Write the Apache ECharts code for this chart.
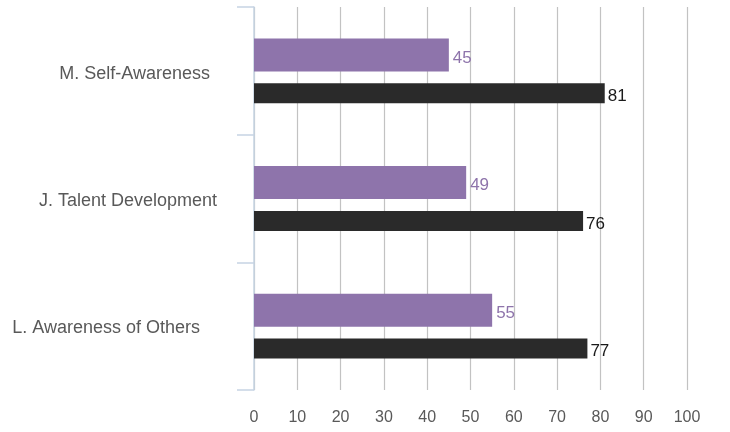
<!DOCTYPE html>
<html>
<head>
<meta charset="utf-8">
<script src="https://cdn.jsdelivr.net/npm/echarts@6/dist/echarts.min.js"></script>
<style>
  html, body { margin: 0; padding: 0; background: #ffffff; }
  #chart { width: 730px; height: 432px; }
</style>
</head>
<body>
<div id="chart"></div>
<script>
// Competency categories, top to bottom
const categories = ['M. Self-Awareness', 'J. Talent Development', 'L. Awareness of Others'];
// Two score series per category
const purpleScores = [45, 49, 55];
const blackScores = [81, 76, 77];
// Value axis ticks
const xTicks = [0, 10, 20, 30, 40, 50, 60, 70, 80, 90, 100];

const FONT = '"Liberation Sans", Arial, sans-serif';
const PURPLE = '#8e74ab';
const DARK = '#2a2a2a';

// Per-category label styles: each label sits a little differently beside the axis
const labelBase = { color: '#595959', fontSize: 18, fontFamily: FONT };
const labelRich = {
  c0: Object.assign({ padding: [6, 7, 0, 0] }, labelBase),
  c1: Object.assign({ padding: [6, 0, 0, 0] }, labelBase),
  c2: Object.assign({ padding: [4, 17, 0, 0] }, labelBase)
};

const chart = echarts.init(document.getElementById('chart'), null, { renderer: 'canvas' });

chart.setOption({
  backgroundColor: '#ffffff',
  animation: false,
  grid: { left: 254, right: 43, top: 7, bottom: 42 },
  xAxis: {
    type: 'value',
    min: xTicks[0],
    max: xTicks[xTicks.length - 1],
    interval: 10,
    axisLine: { show: false },
    axisTick: { show: false },
    axisLabel: { color: '#595959', fontSize: 16, fontFamily: FONT, margin: 20 },
    splitLine: { show: true, lineStyle: { color: '#c2c2c2', width: 1.2 } }
  },
  yAxis: {
    type: 'category',
    inverse: true,
    data: categories,
    axisLine: { show: true, lineStyle: { color: '#c6d4e3', width: 1.5 } },
    axisTick: { show: true, length: 17, lineStyle: { color: '#c6d4e3', width: 1.5 } },
    axisLabel: {
      margin: 37,
      formatter: function (value, index) {
        return '{c' + index + '|' + value + '}';
      },
      rich: labelRich
    }
  },
  series: [
    {
      type: 'bar',
      data: purpleScores,
      barWidth: 33,
      barGap: '36%',
      itemStyle: { color: PURPLE },
      label: {
        show: true,
        position: 'right',
        distance: 4,
        offset: [0, 3],
        color: PURPLE,
        fontSize: 17,
        fontFamily: FONT
      }
    },
    {
      type: 'bar',
      data: blackScores,
      barWidth: 20,
      barGap: '36%',
      itemStyle: { color: DARK },
      label: {
        show: true,
        position: 'right',
        distance: 3,
        offset: [0, 3],
        color: '#1a1a1a',
        fontSize: 17,
        fontFamily: FONT
      }
    }
  ]
});
</script>
</body>
</html>
